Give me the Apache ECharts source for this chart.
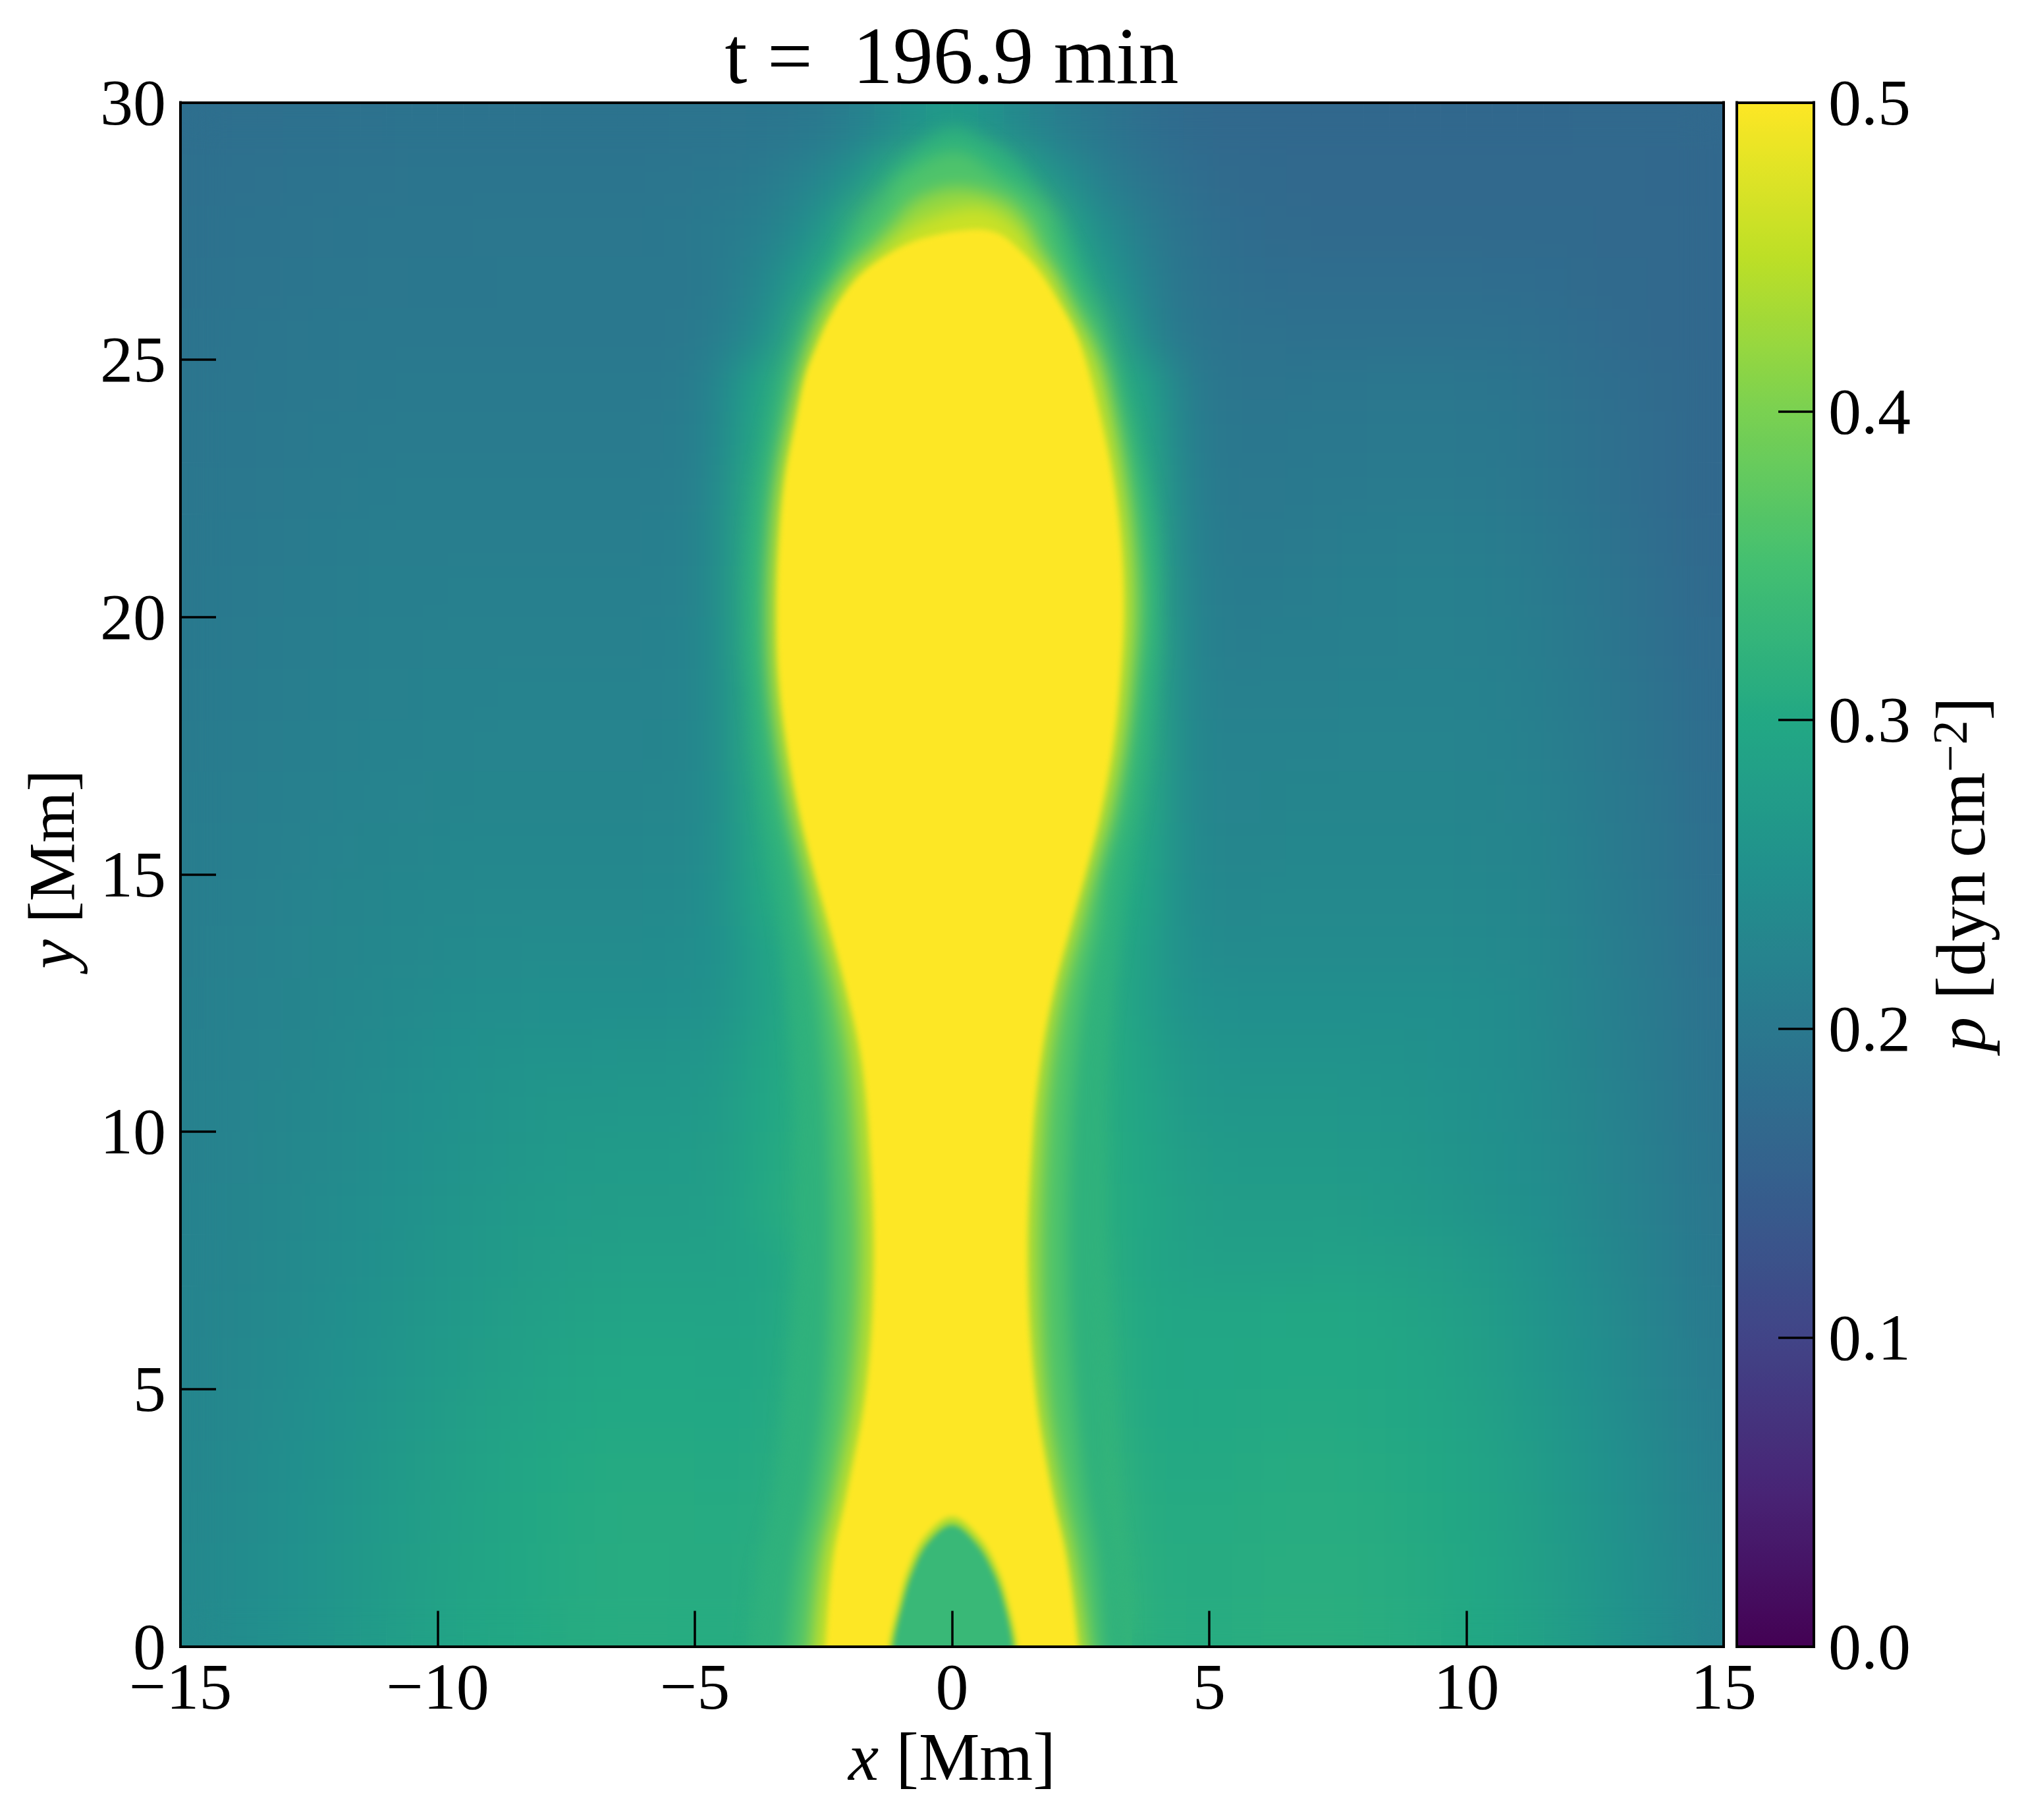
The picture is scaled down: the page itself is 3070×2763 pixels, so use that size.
<!DOCTYPE html>
<html>
<head>
<meta charset="utf-8">
<style>
  html, body { margin: 0; padding: 0; background: #fff; }
  #chart { width: 3070px; height: 2763px; }
  /* soften the map layers, the cells and contours are coarser than the original grid */
  #chart canvas[data-zr-dom-id="zr_1"] { filter: blur(30px); clip-path: inset(155px 453px 264px 274px); }
  #chart canvas[data-zr-dom-id="zr_2"] { filter: blur(12px); clip-path: inset(155px 453px 264px 274px); }
  #chart canvas[data-zr-dom-id="zr_3"] { filter: blur(4px); clip-path: inset(155px 453px 264px 274px); }
</style>
<script src="https://cdn.jsdelivr.net/npm/echarts@6/dist/echarts.min.js"></script>
</head>
<body>
<div id="chart"></div>
<script>
// cell centres of the pressure map [Mm]
const xCells = [-14.75,-14.25,-13.75,-13.25,-12.75,-12.25,-11.75,-11.25,-10.75,-10.25,-9.75,-9.25,-8.75,-8.25,-7.75,-7.25,-6.75,-6.25,-5.75,-5.25,-4.75,-4.25,-3.75,-3.25,-2.75,-2.25,-1.75,-1.25,-0.75,-0.25,0.25,0.75,1.25,1.75,2.25,2.75,3.25,3.75,4.25,4.75,5.25,5.75,6.25,6.75,7.25,7.75,8.25,8.75,9.25,9.75,10.25,10.75,11.25,11.75,12.25,12.75,13.25,13.75,14.25,14.75];
const yCells = [0.5,1.5,2.5,3.5,4.5,5.5,6.5,7.5,8.5,9.5,10.5,11.5,12.5,13.5,14.5,15.5,16.5,17.5,18.5,19.5,20.5,21.5,22.5,23.5,24.5,25.5,26.5,27.5,28.5,29.5];

// pressure, one list per row, unit 0.001 dyn cm^-2
const p_y00 = [235,239,244,249,254,260,266,272,279,285,290,295,298,300,304,307,308,309,309,308,308,308,312,322,340,460,500,500,340,340,340,340,500,500,440,360,330,312,310,309,309,311,312,313,313,312,311,309,306,302,298,293,287,279,271,262,253,244,235,225];
const p_y01 = [233,237,242,247,252,258,264,270,276,283,288,292,296,299,303,306,307,308,308,307,307,307,310,320,340,440,500,500,500,340,340,500,500,500,430,350,326,310,308,307,307,309,310,311,311,310,309,307,304,301,297,291,284,276,268,259,250,241,232,222];
const p_y02 = [231,235,240,245,250,256,262,268,274,280,285,290,294,298,302,305,306,307,307,307,306,306,308,316,340,400,500,500,500,500,500,500,500,480,400,345,322,308,306,305,306,307,308,309,309,308,307,305,302,298,294,288,281,273,265,256,247,238,229,219];
const p_y03 = [229,233,238,243,248,253,259,265,271,277,282,287,291,295,299,302,304,305,305,304,303,303,305,312,330,380,490,500,500,500,500,500,500,470,380,340,318,305,303,302,303,305,306,307,307,306,305,303,299,295,291,285,277,269,261,252,243,234,225,215];
const p_y04 = [227,231,235,240,245,250,256,261,267,272,278,283,287,290,294,297,299,300,300,299,299,299,301,308,325,370,470,500,500,500,500,500,500,450,370,335,314,301,299,298,299,301,302,303,303,302,301,298,295,291,287,280,272,264,256,247,238,229,220,210];
const p_y05 = [225,229,233,238,242,247,252,257,263,268,273,278,282,286,290,293,296,297,297,297,296,296,298,305,320,360,450,500,500,500,500,500,500,440,360,330,310,300,298,297,297,298,299,300,300,299,298,296,293,288,282,275,267,259,251,243,234,225,216,207];
const p_y06 = [224,227,231,235,240,244,249,254,259,264,268,273,277,281,284,287,290,291,291,291,291,291,294,303,318,355,440,500,500,500,500,500,490,430,355,325,308,299,296,295,295,296,297,298,298,297,295,292,288,283,277,270,262,255,247,239,230,221,213,204];
const p_y07 = [222,225,229,233,237,241,246,250,255,260,264,268,272,276,279,282,284,285,286,286,286,287,291,300,315,350,440,490,500,500,500,500,480,420,350,322,305,296,290,285,283,283,283,284,285,285,284,282,279,275,271,265,258,250,242,234,226,217,209,200];
const p_y08 = [221,224,227,231,235,239,243,247,252,256,260,264,268,271,274,275,276,277,277,278,280,285,300,310,315,350,440,490,500,500,500,500,480,420,350,320,302,300,287,281,278,277,277,277,277,276,274,271,268,264,259,254,249,243,236,228,221,213,205,197];
const p_y09 = [219,222,225,229,233,236,240,244,248,252,256,260,263,266,269,270,272,273,273,274,276,282,298,305,315,350,445,500,500,500,500,500,500,425,350,320,300,298,283,276,272,270,270,270,270,269,268,266,263,259,255,250,245,240,233,225,218,210,202,194];
const p_y10 = [218,221,224,227,231,234,238,241,245,249,252,256,259,262,264,264,265,266,266,267,270,277,296,300,315,350,450,500,500,500,500,500,500,430,350,318,298,296,277,269,265,264,264,264,264,263,262,260,258,255,251,247,242,236,230,222,215,207,199,192];
const p_y11 = [216,219,222,225,228,232,235,238,242,245,249,252,254,256,257,257,258,259,259,260,263,270,292,298,315,360,460,500,500,500,500,500,500,440,360,320,297,292,270,262,258,257,257,257,257,256,255,254,252,250,247,243,239,233,226,219,212,204,197,190];
const p_y12 = [215,218,221,223,226,229,232,235,238,240,243,245,246,247,248,248,248,248,248,249,253,262,285,295,318,380,470,500,500,500,500,500,500,470,380,325,295,285,262,252,249,248,248,248,248,248,248,248,248,248,246,242,237,230,223,216,209,202,195,188];
const p_y13 = [213,216,219,221,224,227,230,232,234,236,238,239,240,241,241,241,241,241,242,243,248,258,290,295,320,400,500,500,500,500,500,500,500,500,400,330,293,290,258,244,240,239,239,239,239,239,239,239,239,239,238,236,233,227,220,213,206,199,192,186];
const p_y14 = [212,214,217,219,222,224,227,229,231,233,234,235,235,236,236,236,236,236,237,238,245,262,300,310,320,430,500,500,500,500,500,500,500,500,430,330,300,300,258,238,234,234,235,236,236,236,236,236,236,235,234,232,229,223,217,210,203,197,190,184];
const p_y15 = [210,212,215,217,219,222,224,226,228,230,231,232,232,232,232,232,232,232,233,234,241,260,305,315,330,470,500,500,500,500,500,500,500,500,470,350,305,305,258,234,229,229,230,231,231,231,231,231,231,231,230,228,226,220,214,207,201,195,188,182];
const p_y16 = [209,211,213,215,217,219,221,223,224,225,226,227,228,228,228,228,228,228,229,230,238,260,310,320,420,500,500,500,500,500,500,500,500,500,500,430,320,310,258,230,225,225,226,227,227,227,228,228,228,227,226,224,222,217,211,205,199,193,186,180];
const p_y17 = [207,209,211,213,215,217,219,220,221,222,223,224,225,225,225,225,225,225,226,227,235,262,320,330,480,500,500,500,500,500,500,500,500,500,500,480,330,320,256,227,222,221,222,223,223,224,224,225,225,224,223,221,218,213,208,202,196,190,184,178];
const p_y18 = [205,207,209,211,213,215,217,218,219,220,221,221,222,222,222,222,222,222,223,224,233,264,320,340,500,500,500,500,500,500,500,500,500,500,500,500,340,320,256,224,218,217,218,219,219,220,221,221,221,221,220,218,215,210,205,199,193,187,181,176];
const p_y19 = [203,205,207,209,211,213,215,216,217,218,218,219,219,219,219,219,219,219,220,222,232,268,330,350,500,500,500,500,500,500,500,500,500,500,500,500,350,330,256,222,213,213,214,215,215,216,217,218,218,218,217,215,212,207,202,196,190,184,178,175];
const p_y20 = [201,203,205,207,209,211,213,214,215,215,216,216,216,216,216,216,216,216,217,219,230,270,330,350,500,500,500,500,500,500,500,500,500,500,500,500,350,330,255,218,209,208,209,211,212,214,215,216,216,216,215,212,208,203,198,193,187,181,175,172];
const p_y21 = [199,201,203,205,207,209,211,212,212,213,213,213,213,213,213,213,213,213,214,216,228,268,325,345,500,500,500,500,500,500,500,500,500,500,500,500,345,325,252,215,206,204,205,207,208,210,211,212,212,212,210,208,204,199,194,189,184,178,173,170];
const p_y22 = [197,199,200,202,204,206,208,209,210,210,210,210,210,210,210,210,210,210,211,213,224,262,320,335,480,500,500,500,500,500,500,500,500,500,500,480,335,315,248,212,203,201,202,203,204,205,206,206,206,206,205,202,198,194,189,185,180,175,171,168];
const p_y23 = [195,197,198,200,202,204,205,206,206,207,207,207,207,207,207,207,207,207,208,210,220,255,305,320,440,500,500,500,500,500,500,500,500,500,500,440,320,305,242,208,199,197,198,199,200,201,202,202,202,202,201,199,195,191,187,183,179,175,171,168];
const p_y24 = [193,195,196,198,199,201,202,203,204,204,204,204,204,204,204,204,204,204,205,207,216,248,295,310,400,500,500,500,500,500,500,500,500,500,500,390,300,295,235,204,195,193,193,194,195,196,197,197,197,197,196,194,191,187,184,180,177,174,171,168];
const p_y25 = [191,192,194,195,197,198,199,200,200,201,201,201,201,201,201,201,201,201,201,202,207,220,240,280,340,420,500,500,500,500,500,500,500,500,420,340,280,235,205,195,190,188,187,186,186,186,186,186,186,186,186,185,183,181,178,175,172,170,169,168];
const p_y26 = [188,189,191,192,194,195,196,197,197,198,198,198,199,199,199,199,199,199,199,200,203,212,228,255,290,330,350,460,500,500,500,500,460,350,330,285,250,222,200,190,185,182,180,179,179,179,179,179,179,179,179,178,177,176,174,172,171,170,169,168];
const p_y27 = [186,187,189,190,192,193,194,195,195,196,196,197,197,197,197,197,197,197,198,200,204,209,215,228,250,285,340,400,470,490,490,490,450,360,290,255,232,210,195,185,180,176,174,173,172,172,172,172,172,172,172,172,172,171,171,170,170,169,169,168];
const p_y28 = [184,185,186,188,189,190,191,192,193,194,194,194,194,194,194,194,194,194,195,196,198,200,205,213,225,240,265,310,340,360,360,340,310,270,245,225,205,195,185,178,174,172,171,170,170,170,170,170,170,170,170,170,170,169,169,169,169,168,168,168];
const p_y29 = [181,182,183,184,185,186,187,188,189,189,190,190,190,190,190,190,190,190,190,191,192,193,194,195,200,208,220,235,255,270,270,255,235,220,208,198,190,182,176,172,170,169,168,168,168,168,168,167,167,167,167,168,168,168,169,169,169,169,170,170];
const pRows = [p_y00,p_y01,p_y02,p_y03,p_y04,p_y05,p_y06,p_y07,p_y08,p_y09,p_y10,p_y11,p_y12,p_y13,p_y14,p_y15,p_y16,p_y17,p_y18,p_y19,p_y20,p_y21,p_y22,p_y23,p_y24,p_y25,p_y26,p_y27,p_y28,p_y29];

// pressure contours around the jet, points as [x, y] in Mm
const contour32 = [[-3.9,-0.5],[-3.9,0],[-3.7,1.7],[-3.4,3],[-3.2,5],[-3,7.5],[-3,10],[-3.1,12],[-3.3,14],[-3.6,16],[-3.85,18],[-3.95,20],[-3.85,22],[-3.5,23.8],[-2.95,25.5],[-2.1,27.2],[-1.52,27.95],[-0.86,28.9],[-0.42,29.3],[0.05,29.5],[0.54,29.3],[1.13,28.9],[1.86,27.95],[2.3,27.2],[2.95,25.5],[3.45,23.8],[3.9,22],[4,20],[3.85,18],[3.55,16],[3.25,14],[3,12],[2.95,10],[2.95,7.5],[3.05,5],[3.1,3],[3.3,1.7],[3.4,0],[3.4,-0.5]];
const contour36 = [[-3.2,-0.5],[-3.2,0],[-3,1.7],[-2.72,3],[-2.45,5],[-2.35,7.5],[-2.4,10],[-2.5,11.5],[-2.65,12.8],[-2.9,14],[-3.05,15],[-3.3,16.2],[-3.5,17.5],[-3.63,18.8],[-3.68,20.1],[-3.63,21.4],[-3.5,22.7],[-3.21,24.2],[-2.8,25.46],[-2.47,26.3],[-1.96,27.2],[-1.37,27.95],[-0.93,28.6],[0.05,29.05],[0.91,28.6],[1.72,27.95],[2.07,27.2],[2.45,26.3],[2.85,25.46],[3.2,24.2],[3.55,22.7],[3.72,21.4],[3.78,20.1],[3.65,18.8],[3.5,17.5],[3.3,16.2],[3,15],[2.85,14],[2.6,12.8],[2.42,11.5],[2.3,10],[2.24,7.5],[2.35,5],[2.58,3],[2.8,1.7],[2.93,0],[2.93,-0.5]];
const contour42 = [[-2.78,-0.5],[-2.78,0],[-2.6,1.7],[-2.33,3],[-2,5],[-1.85,7.5],[-1.95,10],[-2.08,11.5],[-2.32,12.8],[-2.62,14],[-2.85,15],[-3.15,16.2],[-3.39,17.5],[-3.54,18.8],[-3.58,20.1],[-3.54,21.4],[-3.42,22.7],[-3.16,24],[-2.92,25],[-2.55,26],[-2,26.78],[-1.56,27.2],[-1.15,27.65],[-0.72,28.1],[0.1,28.35],[1.05,28.1],[1.5,27.65],[1.7,27.2],[1.92,26.78],[2.38,26],[2.9,25],[3.15,24],[3.38,22.7],[3.54,21.4],[3.59,20.1],[3.51,18.8],[3.36,17.5],[3.11,16.2],[2.76,15],[2.52,14],[2.2,12.8],[1.97,11.5],[1.83,10],[1.75,7.5],[1.85,5],[2.16,3],[2.42,1.7],[2.65,0],[2.65,-0.5]];
const contour46 = [[-2.62,-0.5],[-2.62,0],[-2.45,1.7],[-2.15,3],[-1.76,5],[-1.6,7.5],[-1.71,10],[-1.87,11.5],[-2.14,12.8],[-2.47,14],[-2.74,15],[-3.03,16.2],[-3.3,17.5],[-3.46,18.8],[-3.5,20.1],[-3.46,21.4],[-3.33,22.7],[-3.07,24],[-2.82,25],[-2.32,26],[-1.88,26.7],[-1.33,27.15],[-0.65,27.65],[0.25,27.95],[0.76,27.9],[1.27,27.55],[1.6,27.1],[1.97,26.7],[2.25,26],[2.74,25],[3.01,24],[3.25,22.7],[3.41,21.4],[3.46,20.1],[3.39,18.8],[3.25,17.5],[2.99,16.2],[2.68,15],[2.39,14],[2.05,12.8],[1.8,11.5],[1.62,10],[1.52,7.5],[1.66,5],[1.98,3],[2.28,1.7],[2.52,0],[2.52,-0.5]];
const contour50 = [[-2.45,-0.5],[-2.45,0],[-2.3,1.7],[-2.03,3],[-1.66,5],[-1.51,7.5],[-1.61,10],[-1.77,11.5],[-2.06,12.8],[-2.38,14],[-2.66,15],[-2.96,16.2],[-3.2,17.5],[-3.36,18.8],[-3.4,20.1],[-3.36,21.4],[-3.24,22.7],[-3.03,23.8],[-2.84,24.7],[-2.62,25.27],[-2.41,25.74],[-2.11,26.25],[-1.74,26.68],[-1.15,27.1],[-0.56,27.36],[0.39,27.53],[0.9,27.45],[1.34,27.1],[1.71,26.68],[2.08,26.1],[2.37,25.57],[2.59,24.97],[2.89,23.8],[3.12,22.7],[3.28,21.4],[3.33,20.1],[3.26,18.8],[3.12,17.5],[2.88,16.2],[2.58,15],[2.3,14],[1.98,12.8],[1.73,11.5],[1.56,10],[1.46,7.5],[1.6,5],[1.93,3],[2.22,1.7],[2.44,0],[2.44,-0.5]];
// the low pressure pocket at the foot of the jet
const pocket44 = [[-1.23,-0.5],[-1.23,0],[-1.04,0.84],[-0.86,1.48],[-0.54,2.12],[0,2.52],[0.53,2.12],[0.89,1.48],[1.09,0.84],[1.27,0],[1.27,-0.5]];
const pocket34 = [[-1.15,-0.5],[-1.15,0],[-0.96,0.84],[-0.78,1.42],[-0.48,2],[0,2.36],[0.47,2],[0.81,1.42],[1.01,0.84],[1.19,0],[1.19,-0.5]];

const haloLines = [contour32,contour36,contour42,contour46];
const haloLevels = [0.32,0.36,0.42,0.46];
const coreLines = [contour50,pocket44,pocket34];
const coreLevels = [0.5,0.44,0.335];

const viridis = ['#440154','#482475','#414487','#355f8d','#2a788e','#21908d','#22a884','#43bf71','#7ad151','#bddf26','#fde725'];
const FONT = 'Liberation Serif';

function levelColor(level) {
  const t = Math.min(level / 0.5, 1) * (viridis.length - 1);
  const i = Math.min(Math.floor(t), viridis.length - 2);
  const a = echarts.color.parse(viridis[i]);
  const b = echarts.color.parse(viridis[i + 1]);
  const f = t - i;
  return 'rgb(' + [0, 1, 2].map(k => Math.round(a[k] + (b[k] - a[k]) * f)).join(',') + ')';
}

function contourSeries(lines, levels, zlevel) {
  return {
    type: 'custom', xAxisIndex: 1, yAxisIndex: 1, silent: true, clip: false, zlevel: zlevel,
    data: lines.map((c, i) => [i]),
    renderItem: (params, api) => {
      const i = params.dataIndex;
      return {
        type: 'polygon',
        z2: i,
        shape: { points: lines[i].map(p => api.coord(p)), smooth: 0.35 },
        style: { fill: levelColor(levels[i]) }
      };
    }
  };
}

const cells = [];
pRows.forEach((row, j) => row.forEach((v, i) => cells.push([i, j, v / 1000])));

const AXIS_LAYER = 5;
const frame = { show: true, onZero: false, lineStyle: { color: '#000', width: 4, cap: 'square' } };
const tick = { show: true, inside: true, length: 54, lineStyle: { color: '#000', width: 3.5 } };
const labelStyle = { color: '#000', fontFamily: FONT, fontSize: 100 };
const richName = (size, padding) => ({
  color: '#000', fontFamily: FONT, fontSize: size, padding: padding || 0,
  rich: {
    i: { fontFamily: FONT, fontSize: size, fontStyle: 'italic', color: '#000' },
    sup: { fontFamily: FONT, fontSize: 74, color: '#000', verticalAlign: 'top', lineHeight: 110 }
  }
});
const minus = v => String(v).replace('-', '\u2212');
const plainAxis = { axisLine: frame, axisTick: { show: false }, axisLabel: { show: false }, splitLine: { show: false }, z: 10, zlevel: AXIS_LAYER };

const chart = echarts.init(document.getElementById('chart'), null, { renderer: 'canvas' });
chart.setOption({
  animation: false,
  backgroundColor: '#fff',
  title: {
    text: 't =  196.9 min',
    left: 1440, top: 28, textAlign: 'center',
    textStyle: { color: '#000', fontFamily: FONT, fontSize: 122, fontWeight: 'normal' }
  },
  grid: [
    { left: 274, top: 155.5, width: 2343, height: 2344 },
    { left: 2637, top: 155.5, width: 117, height: 2344 }
  ],
  xAxis: [
    { type: 'category', gridIndex: 0, position: 'top', data: xCells, ...plainAxis },
    {
      type: 'value', gridIndex: 0, position: 'bottom', min: -15, max: 15, interval: 5, z: 10, zlevel: AXIS_LAYER,
      axisLine: frame, axisTick: tick, splitLine: { show: false },
      axisLabel: { ...labelStyle, margin: 18, formatter: minus },
      name: '{i|x} [Mm]', nameLocation: 'middle', nameGap: 122, nameTextStyle: richName(104)
    },
    { type: 'value', gridIndex: 1, position: 'top', min: 0, max: 1, ...plainAxis },
    { type: 'value', gridIndex: 1, position: 'bottom', min: 0, max: 1, ...plainAxis }
  ],
  yAxis: [
    { type: 'category', gridIndex: 0, position: 'right', data: yCells, ...plainAxis },
    {
      type: 'value', gridIndex: 0, position: 'left', min: 0, max: 30, interval: 5, z: 10, zlevel: AXIS_LAYER,
      axisLine: frame, axisTick: tick, splitLine: { show: false },
      axisLabel: { ...labelStyle, margin: 22, verticalAlign: 'top', lineHeight: 14 },
      name: '{i|y} [Mm]', nameLocation: 'middle', nameGap: 138, nameTextStyle: richName(100, [0, 0, 0, 16])
    },
    { type: 'value', gridIndex: 1, position: 'left', min: 0, max: 0.5, ...plainAxis },
    {
      type: 'value', gridIndex: 1, position: 'right', min: 0, max: 0.5, interval: 0.1, z: 10, zlevel: AXIS_LAYER,
      axisLine: frame, axisTick: tick, splitLine: { show: false },
      axisLabel: { ...labelStyle, margin: 22, verticalAlign: 'top', lineHeight: 14, formatter: v => v.toFixed(1) },
      name: '{i|p} [dyn\u2009cm{sup|\u22122}]', nameLocation: 'middle', nameGap: 176, nameRotate: 90, nameTextStyle: richName(106)
    }
  ],
  visualMap: {
    type: 'continuous', min: 0, max: 0.5, seriesIndex: [0, 1], dimension: 2, zlevel: AXIS_LAYER,
    calculable: false, hoverLink: false, text: null, padding: 0,
    left: 2637, top: 155.5, itemWidth: 117, itemHeight: 2344,
    inRange: { color: viridis }
  },
  series: [
    { type: 'heatmap', xAxisIndex: 0, yAxisIndex: 0, data: cells, silent: true, progressive: 0, zlevel: 0 },
    { type: 'heatmap', xAxisIndex: 0, yAxisIndex: 0, data: cells, silent: true, progressive: 0, zlevel: 1 },
    contourSeries(haloLines, haloLevels, 2),
    contourSeries(coreLines, coreLevels, 3)
  ]
});
</script>
</body>
</html>
